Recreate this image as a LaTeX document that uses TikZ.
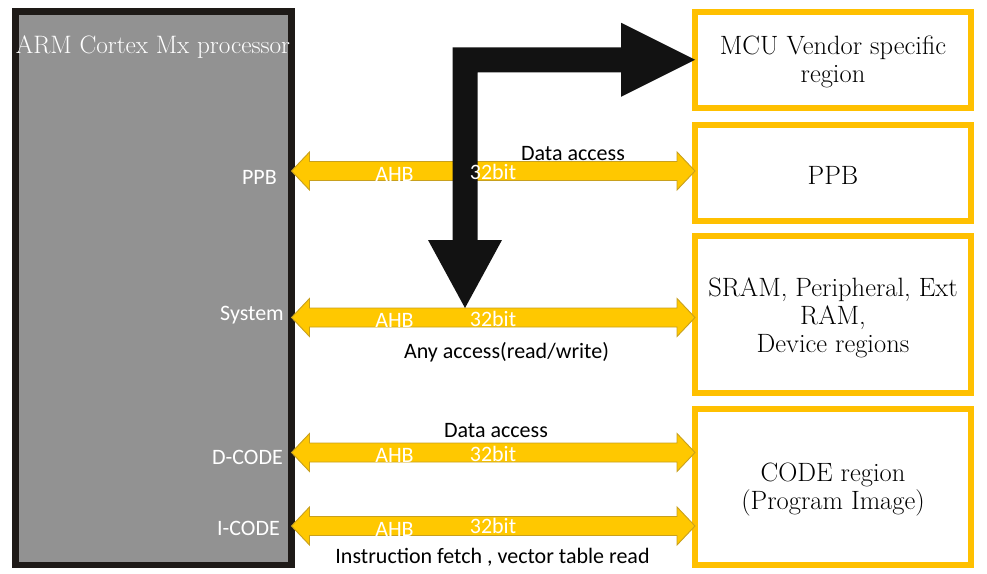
\documentclass[tikz,border=0pt]{standalone}
\usepackage{fontspec}
\newfontfamily\busfont{Carlito}
\usetikzlibrary{calc}

\definecolor{cpugray}{RGB}{146,146,146}
\definecolor{cpuedge}{RGB}{30,26,23}
\definecolor{regionyellow}{RGB}{255,192,0}
\definecolor{busyellow}{RGB}{255,200,0}
\definecolor{busedge}{RGB}{200,160,30}
\definecolor{accessblack}{RGB}{18,18,18}

\tikzset{
  cpubox/.style={draw=cpuedge, fill=cpugray, line width=6.6pt, outer sep=0pt,
    minimum width=276pt, minimum height=553.5pt, anchor=north west},
  regionbox/.style={draw=regionyellow, line width=6pt, outer sep=0pt,
    minimum width=276pt, anchor=north west},
  regiontext/.style={align=center, inner sep=0pt,
    font=\fontsize{26.5}{28}\selectfont},
  portlabel/.style={text=white, anchor=east, inner sep=0pt,
    font=\busfont\fontsize{22}{26}\selectfont},
  buslabel/.style={text=white, inner sep=0pt,
    font=\busfont\fontsize{22}{26}\selectfont},
  accesslabel/.style={text=black, inner sep=0pt,
    font=\busfont\fontsize{22}{26}\selectfont},
  bus/.style={fill=busyellow, draw=busedge, line width=0.9pt, line join=miter},
}

% fat double arrow between two points at the same height
\newcommand{\busarrow}[2]{%
  \filldraw[bus] (#1) -- ++(18,-19) -- ++(0,9.5) -- ($(#2)+(-18,-9.5)$)
    -- ++(0,-9.5) -- (#2) -- ++(-18,19) -- ++(0,-9.5)
    -- ($(#1)+(18,9.5)$) -- ++(0,9.5) -- cycle;}

\begin{document}
\begin{tikzpicture}[x=1pt,y=-1pt]
    \useasboundingbox (0,0) rectangle (987,573);

    % processor
    \node[cpubox] (cpu) at (15.5,11.5) {};
    \node[text=white, inner sep=0pt, font=\fontsize{25.2}{28}\selectfont] (cputitle) at (153,47.5) {ARM Cortex Mx processor};

    % memory regions
    \node[regionbox, minimum height=96.5pt] (vendorreg) at (695,11.5) {};
    \node[regionbox, minimum height=96pt] (ppbreg) at (695,124.5) {};
    \node[regionbox, minimum height=157pt] (sramreg) at (695,236) {};
    \node[regionbox, minimum height=155.5pt] (codereg) at (695,409) {};
    \node[regiontext] (vendortext) at ($(vendorreg.center)+(0,2)$) {MCU Vendor specific\\region};
    \node[regiontext] (ppbtext) at ($(ppbreg.center)+(0,3)$) {PPB};
    \node[regiontext] (sramtext) at ($(sramreg.center)+(0,3)$) {SRAM, Peripheral, Ext\\RAM,\\Device regions};
    \node[regiontext] (codetext) at ($(codereg.center)+(0,3)$) {CODE region\\(Program Image)};

    % buses
    \foreach \bus/\yy/\region in {ppb/171/ppbreg, sys/317.5/sramreg, dcode/452.5/codereg, icode/526/codereg} {
        \coordinate (\bus L) at (cpu.east |- 0,\yy);
        \coordinate (\bus R) at (\region.west |- 0,\yy);
        \busarrow{\bus L}{\bus R}
    }

    % bent access arrow
    \coordinate (sysjoin) at ($(sysL)+(173.5,-9.5)$);
    \fill[accessblack] (sysjoin) -- ++(-37,-68) -- ++(24.5,0) |- ($(vendorreg.west)+(-74,-12.5)$)
        -- ++(0,-24.5) -- (vendorreg.west) -- ++(-74,37) -- ++(0,-24.5)
        -| ($(sysjoin)+(12.5,-68)$) -- ++(24.5,0) -- cycle;

    \foreach \bus/\ahb/\wid in {ppb/3.5/0.5, sys/3/1, dcode/2.5/1, icode/3.5/-0.5} {
        \node[buslabel] (\bus ahb) at ($(\bus L)+(103,\ahb)$) {AHB};
        \node[buslabel] (\bus width) at ($(\bus L)+(201.5,\wid)$) {32bit};
    }

    % ports
    \node[portlabel] (ppbport) at (277,177) {PPB};
    \node[portlabel] (sysport) at (284,315.5) {System};
    \node[portlabel] (dcodeport) at (283,457.5) {D-CODE};
    \node[portlabel] (icodeport) at (280,528) {I-CODE};

    % access types
    \node[accesslabel] (ppbaccess) at (573,153.5) {Data access};
    \node[accesslabel] (sysaccess) at (506.5,352) {Any access(read/write)};
    \node[accesslabel] (dcodeaccess) at (496,431) {Data access};
    \node[accesslabel] (icodeaccess) at (492.5,557) {Instruction fetch , vector table read};
\end{tikzpicture}
\end{document}
